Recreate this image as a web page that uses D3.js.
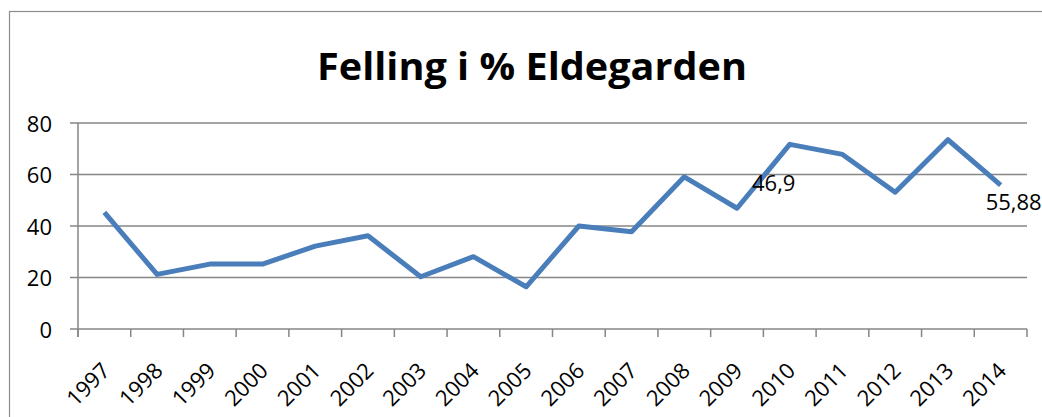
<!DOCTYPE html>
<html>
<head>
<meta charset="utf-8">
<script src="https://cdn.jsdelivr.net/npm/d3@7"></script>
<style>
  body { margin: 0; background: #fff; }
  text { font-family: "Open Sans", "Liberation Sans", sans-serif; }
</style>
</head>
<body>
<script>
  // chart data
  let years = ["1997","1998","1999","2000","2001","2002","2003","2004","2005",
               "2006","2007","2008","2009","2010","2011","2012","2013","2014"];
  let felling = [45.3, 21.2, 25.2, 25.2, 32.2, 36.2, 20.3, 28.1, 16.4,
                 40, 37.8, 59.1, 46.9, 71.7, 67.8, 53.1, 73.5, 55.88];
  let yTicks = [0, 20, 40, 60, 80];
  let labelled = {"2009": "46,9", "2014": "55,88"};
  let title = "Felling i % Eldegarden";

  let width = 1042, height = 417;
  let pLeft = 78, pRight = 1027, pTop = 123, pBottom = 329;

  let svg = d3.select("body").append("svg")
    .attr("width", width).attr("height", height);

  // outer chart border
  svg.append("rect")
    .attr("x", 9.5).attr("y", 11.5)
    .attr("width", 1100).attr("height", 500)
    .style("fill", "white")
    .style("stroke", "#8c8c8c")
    .style("stroke-width", 1.2);

  let x = d3.scaleBand().domain(years).range([pLeft, pRight]);
  let y = d3.scaleLinear().domain([0, 80]).range([pBottom, pTop]);

  // gridlines
  svg.append("g")
    .selectAll("line")
    .data(yTicks)
    .enter()
    .append("line")
      .attr("x1", pLeft - 8).attr("x2", pRight)
      .attr("y1", d => y(d)).attr("y2", d => y(d))
      .style("stroke", "#868686")
      .style("stroke-width", 1.5);

  // y axis line
  svg.append("line")
    .attr("x1", pLeft).attr("x2", pLeft)
    .attr("y1", pTop).attr("y2", pBottom + 8)
    .style("stroke", "#868686")
    .style("stroke-width", 1.5);

  // y labels
  svg.append("g")
    .selectAll("text")
    .data(yTicks)
    .enter()
    .append("text")
      .text(d => d)
      .attr("x", 52)
      .attr("y", d => y(d) + 8.5)
      .attr("text-anchor", "end")
      .style("font-size", "22px")
      .style("fill", "black");

  // x ticks at band edges
  let edges = years.map(d => x(d)).concat([pRight]);
  svg.append("g")
    .selectAll("line")
    .data(edges)
    .enter()
    .append("line")
      .attr("x1", d => d).attr("x2", d => d)
      .attr("y1", pBottom).attr("y2", pBottom + 8)
      .style("stroke", "#868686")
      .style("stroke-width", 1.5);

  // x labels, rotated
  svg.append("g")
    .selectAll("text")
    .data(years)
    .enter()
    .append("text")
      .text(d => d)
      .attr("text-anchor", "end")
      .attr("transform", d => "translate(" + (x(d) + x.bandwidth() / 2 + 7) + "," + 372 + ") rotate(-45)")
      .style("font-size", "22px")
      .style("fill", "black");

  // line
  let line = d3.line()
    .x((d, i) => x(years[i]) + x.bandwidth() / 2)
    .y(d => y(d));

  svg.append("path")
    .datum(felling)
    .attr("d", line)
    .style("fill", "none")
    .style("stroke", "#4a7ebb")
    .style("stroke-width", 5)
    .style("stroke-linejoin", "round");

  // data labels
  let offsets = {"2009": [15, -17], "2014": [-15, 25]};
  svg.append("g")
    .selectAll("text")
    .data(years.filter(d => labelled[d]))
    .enter()
    .append("text")
      .text(d => labelled[d])
      .attr("x", d => x(d) + x.bandwidth() / 2 + offsets[d][0])
      .attr("y", d => y(felling[years.indexOf(d)]) + offsets[d][1])
      .style("font-size", "22px")
      .style("fill", "black");

  // title
  svg.append("text")
    .text(title)
    .attr("x", 532)
    .attr("y", 80)
    .attr("text-anchor", "middle")
    .attr("textLength", 430)
    .attr("lengthAdjust", "spacingAndGlyphs")
    .style("font-size", "38px")
    .style("font-weight", "bold")
    .style("fill", "black");
</script>
</body>
</html>
